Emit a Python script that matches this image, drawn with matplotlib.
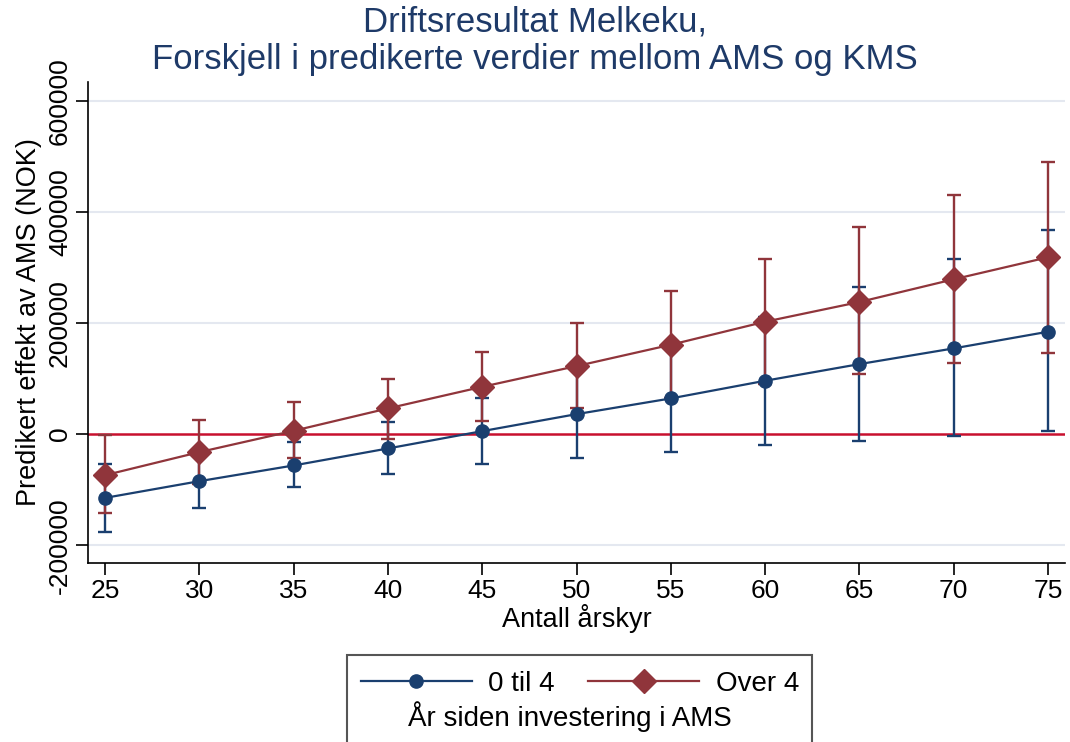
import numpy as np
import matplotlib
matplotlib.use("Agg")
import matplotlib.pyplot as plt
from matplotlib.patches import Rectangle
from matplotlib.lines import Line2D

plt.rcParams['font.family'] = ['Liberation Sans', 'DejaVu Sans']

# data
arskyr = [25, 30, 35, 40, 45, 50, 55, 60, 65, 70, 75]
blue_est = [-114800, -84700, -56400, -25800, 5400, 36000, 64300, 96100, 126100, 154400, 184400]
blue_lo = [-177000, -132800, -95500, -72100, -53500, -43200, -32400, -20400, -12600, -3000, 5400]
blue_hi = [-53500, -36600, -15000, 21100, 64900, 115200, 161000, 211400, 264900, 314800, 367600]
red_est = [-73900, -32400, 6000, 46300, 85200, 122500, 160900, 202400, 237900, 278800, 318400]
red_lo = [-141800, -89500, -43800, -8400, 22900, 46900, 64700, 89400, 108100, 128500, 145400]
red_hi = [-1800, 24700, 57700, 99000, 147800, 200600, 257100, 315400, 373600, 430700, 489600]

navy = '#1a3f6f'
maroon = '#90353b'
grid_col = '#e4e8f0'
title_col = '#1e3a68'

fig = plt.figure(figsize=(10.7, 7.42), dpi=100)
ax = fig.add_axes([88 / 1070, 1 - 563 / 742, (1065 - 88) / 1070, (563 - 82) / 742])

ax.set_xlim(24.1, 75.9)
ax.set_ylim(-232000, 634000)

for yv in [-200000, 200000, 400000, 600000]:
    ax.axhline(yv, color=grid_col, lw=1.5, zorder=0)
ax.axhline(0, color='#c8102e', lw=1.8, zorder=1)

x = np.array(arskyr)
for est, lo, hi, col in [(blue_est, blue_lo, blue_hi, navy), (red_est, red_lo, red_hi, maroon)]:
    est = np.array(est)
    ax.errorbar(x, est, yerr=[est - np.array(lo), np.array(hi) - est], fmt='none',
                ecolor=col, elinewidth=1.7, capsize=4.8, capthick=1.7, zorder=2)

ax.plot(x, blue_est, color=navy, lw=1.6, marker='o', ms=9.5, zorder=3)
ax.plot(x, red_est, color=maroon, lw=1.6, marker='D', ms=12, zorder=3)

ax.set_xticks(arskyr)
ax.set_yticks([-200000, 0, 200000, 400000, 600000])
ax.set_yticklabels(['-200000', '0', '200000', '400000', '600000'], rotation=90, va='center')
ax.tick_params(axis='both', labelsize=19, length=8.5, width=1.2, direction='out', pad=3)
for s in ['top', 'right']:
    ax.spines[s].set_visible(False)
for s in ['left', 'bottom']:
    ax.spines[s].set_linewidth(1.2)

ax.set_xlabel('Antall årskyr', fontsize=19.5, labelpad=1)
ax.set_ylabel('Predikert effekt av AMS (NOK)', fontsize=19.5, labelpad=4)

fig.text(0.5, 1 - 22 / 742, 'Driftsresultat Melkeku,', ha='center', va='center',
         fontsize=25, color=title_col)
fig.text(0.5, 1 - 60 / 742, 'Forskjell i predikerte verdier mellom AMS og KMS', ha='center',
         va='center', fontsize=25, color=title_col)

# legend box (bottom is cut by the figure edge)
fig.patches.append(Rectangle((347 / 1070, -0.02), (812 - 347) / 1070, 1 - 655 / 742 + 0.02,
                             transform=fig.transFigure, fill=False, ec='#555555', lw=1.5))
handles = [Line2D([], [], color=navy, lw=1.6, marker='o', ms=9.5),
           Line2D([], [], color=maroon, lw=1.6, marker='D', ms=12)]
fig.legend(handles, ['0 til 4', 'Over 4'], ncol=2, frameon=False, fontsize=20,
           loc='center', bbox_to_anchor=(580 / 1070, 1 - 684 / 742), handlelength=4,
           columnspacing=1.2, handletextpad=0.6)
fig.text(570 / 1070, 1 - 717 / 742, 'År siden investering i AMS', ha='center', va='center',
         fontsize=20)

fig.savefig('out.png', dpi=100)
